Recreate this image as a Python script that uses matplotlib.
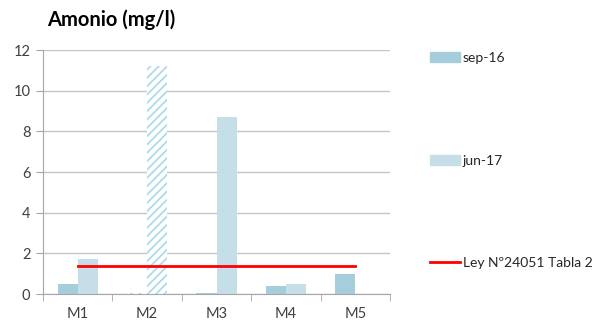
import numpy as np
import matplotlib
matplotlib.use("Agg")
import matplotlib.pyplot as plt
from matplotlib.patches import Patch
from matplotlib.lines import Line2D

plt.rcParams["font.family"] = ["Lato", "DejaVu Sans"]
plt.rcParams["hatch.linewidth"] = 1.3

# data
sites  = ["M1", "M2", "M3", "M4", "M5"]
sep16  = [0.5, 0.04, 0.03, 0.4, 1.0]
jun17  = [1.7, 11.2, 8.7, 0.5, 0.0]
limite = [1.4, 1.4, 1.4, 1.4, 1.4]
hatched_sep = [False, True, False, False, False]
hatched_jun = [False, True, False, False, False]

SEP   = "#a6cddb"
JUN   = "#c5dee8"
HATCH = "#addbeb"
RED   = "#ff0000"
GRID  = "#c6c6c6"

fig = plt.figure(figsize=(5.97, 3.22), dpi=100)
ax = fig.add_axes([43 / 597, 28 / 322, 347 / 597, 244 / 322])

x = np.arange(len(sites))
w = 0.29
for i in x:
    for off, vals, col, hat in ((-w / 2, sep16, SEP, hatched_sep),
                                (w / 2, jun17, JUN, hatched_jun)):
        if hat[i]:
            ax.bar(i + off, vals[i], w, facecolor="white", edgecolor=HATCH,
                   hatch="////", linewidth=0, zorder=2)
        else:
            ax.bar(i + off, vals[i], w, color=col, linewidth=0, zorder=2)

ax.plot(x, limite, color=RED, linewidth=2, zorder=3)

ax.set_xlim(-0.5, 4.5)
ax.set_ylim(0, 12)
ax.set_yticks(range(0, 13, 2))
ax.yaxis.grid(True, color=GRID, linewidth=1)
ax.set_axisbelow(True)

ax.set_xticks(x)
ax.set_xticklabels(sites)
ax.set_xticks(np.arange(-0.5, 5, 1), minor=True)
ax.tick_params(axis="x", which="major", length=0, pad=9, labelsize=10.5,
               colors="#404040")
ax.tick_params(axis="x", which="minor", length=5, color="#a6a6a6")
ax.tick_params(axis="y", length=5, color="#a6a6a6", labelsize=10.5,
               labelcolor="#404040", pad=4)

for s in ("top", "right"):
    ax.spines[s].set_visible(False)
for s in ("left", "bottom"):
    ax.spines[s].set_color("#a6a6a6")

fig.text(47 / 597, 1 - 20 / 322, "Amonio (mg/l)", fontsize=14.5,
         fontweight="bold", va="center", ha="left", color="#000000")

# legend entries, spread down the right side
entries = [
    (Patch(color=SEP), "sep-16", 58),
    (Patch(color=JUN), "jun-17", 161),
    (Line2D([0], [0], color=RED, linewidth=2), "Ley Nº24051 Tabla 2", 263),
]
for handle, label, ypix in entries:
    fig.legend(handles=[handle], labels=[label], loc="center left",
               bbox_to_anchor=(424 / 597, 1 - ypix / 322), frameon=False,
               fontsize=10, handlelength=2.2, handletextpad=0.2,
               borderaxespad=0, labelcolor="#262626")

fig.savefig("out.png", dpi=100)
